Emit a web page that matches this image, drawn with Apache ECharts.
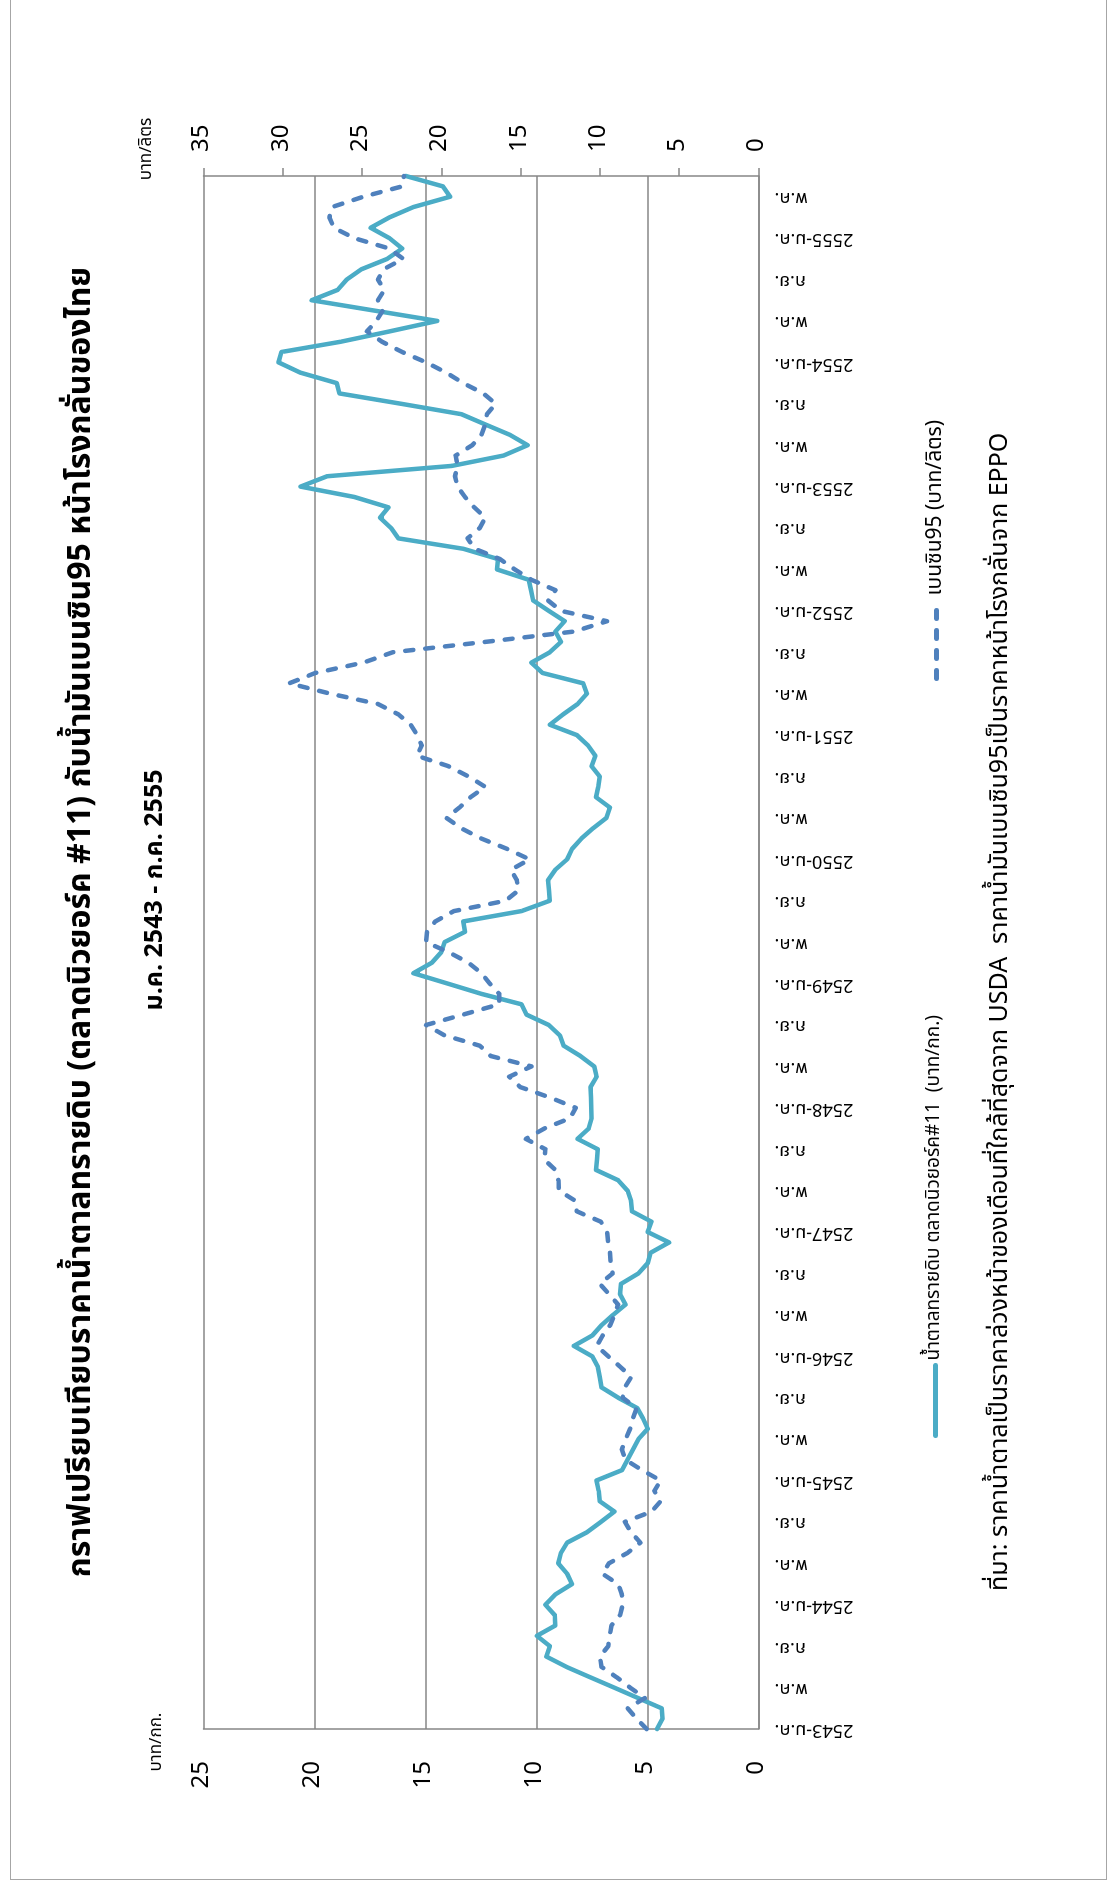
<!DOCTYPE html>
<html>
<head>
<meta charset="utf-8">
<title>ราคาน้ำตาลทรายดิบ กับ น้ำมันเบนซิน95</title>
<script src="https://cdn.jsdelivr.net/npm/echarts@6/dist/echarts.min.js"></script>
<style>
  html, body { margin: 0; padding: 0; width: 1114px; height: 1892px; overflow: hidden; background: #fff; }
  /* the chart is laid out landscape and turned a quarter turn so the time axis runs up the page */
  #frame { position: absolute; left: 0; top: 1892px; width: 1892px; height: 1114px;
           transform-origin: 0 0; transform: rotate(-90deg); background: #fff; }
  #chart { position: absolute; left: 0; top: 0; width: 1892px; height: 1114px; }
  #border { position: absolute; left: 12px; top: 10px; width: 1900px; height: 1097px;
            border: 1px solid #a6a6a6; box-sizing: border-box; pointer-events: none; }
</style>
</head>
<body>
<div id="frame">
  <div id="chart"></div>
  <div id="border"></div>
</div>
<script>
// ---- data -------------------------------------------------------------
const firstYear = 2543;           // พ.ศ.
const monthCount = 151;           // ม.ค. 2543 .. ก.ค. 2555
const monthNames = ['ม.ค.', 'ก.พ.', 'มี.ค.', 'เม.ย.', 'พ.ค.', 'มิ.ย.',
                    'ก.ค.', 'ส.ค.', 'ก.ย.', 'ต.ค.', 'พ.ย.', 'ธ.ค.'];

// raw sugar, New York #11, nearest-month futures (บาท/กก.)
const sugar = [
  4.57, 4.32, 4.36, 5.43, 6.50, 7.58, 8.65, 9.56, 9.40, 9.98,
  9.15, 9.18, 9.60, 9.15, 8.40, 8.62, 9.02, 8.90, 8.62, 7.73,
  7.10, 6.49, 7.15, 7.20, 7.30, 6.15, 5.90, 5.65, 5.41, 4.99,
  5.20, 5.46, 6.32, 7.07, 7.15, 7.24, 7.49, 8.32, 7.49, 7.07,
  6.55, 5.99, 6.24, 6.19, 5.41, 4.99, 4.86, 4.03, 4.99, 4.82,
  5.70, 5.74, 5.90, 6.32, 7.32, 7.28, 7.24, 8.15, 7.65, 7.52,
  7.53, 7.55, 7.57, 7.29, 7.40, 8.02, 8.78, 8.95, 9.45, 10.45,
  10.68, 12.47, 14.00, 15.55, 14.72, 14.30, 14.14, 13.22, 13.30, 10.68,
  9.40, 9.44, 9.48, 9.15, 8.62, 8.40, 7.98, 7.45, 6.85, 6.69,
  7.32, 7.22, 7.15, 7.52, 7.35, 7.68, 8.18, 9.40, 8.80, 8.15,
  7.73, 7.90, 9.73, 10.23, 9.40, 8.90, 9.15, 8.73, 9.45, 10.15,
  10.25, 10.35, 11.78, 11.73, 13.31, 16.22, 16.55, 17.05, 16.67, 18.21,
  20.63, 19.43, 13.81, 11.48, 10.40, 11.20, 12.30, 13.39, 16.10, 18.88,
  19.00, 20.63, 21.62, 21.49, 18.80, 16.60, 14.47, 17.30, 20.13, 18.96,
  18.55, 17.88, 16.72, 16.05, 16.63, 17.47, 16.63, 15.55, 13.89, 14.22,
  15.88
];

// gasoline 95, ex-refinery price (บาท/ลิตร)
const benzine95 = [
  7.05, 7.70, 8.25, 7.15, 8.10, 8.95, 9.90, 10.00, 9.48, 9.38,
  9.27, 8.73, 8.57, 8.62, 8.85, 9.85, 9.43, 8.27, 7.45, 8.03,
  8.43, 6.75, 6.17, 6.57, 6.17, 7.34, 8.38, 8.62, 8.38, 8.10,
  7.92, 7.69, 8.57, 8.43, 8.03, 8.73, 9.48, 10.20, 9.83, 9.36,
  9.08, 8.85, 9.43, 10.01, 9.20, 9.32, 9.36, 9.48, 9.55, 9.94,
  11.46, 11.53, 12.58, 12.62, 12.81, 13.51, 13.44, 14.67, 13.50, 11.88,
  11.53, 13.16, 15.02, 15.72, 14.32, 16.88, 17.58, 19.80, 20.96, 18.63,
  16.35, 16.35, 16.95, 17.47, 18.28, 19.50, 20.96, 20.91, 20.38, 19.21,
  15.95, 15.14, 15.25, 15.60, 14.44, 15.84, 17.47, 18.75, 19.68, 18.86,
  18.16, 17.23, 18.28, 19.56, 21.54, 21.24, 21.52, 21.94, 22.71, 23.99,
  27.00, 29.60, 27.95, 24.92, 23.06, 17.23, 11.64, 9.55, 12.46, 13.27,
  12.81, 14.32, 15.37, 16.30, 17.90, 18.35, 17.58, 17.23, 17.93, 18.51,
  18.98, 19.14, 18.98, 19.10, 18.05, 17.47, 17.23, 17.12, 16.58, 17.35,
  18.63, 19.68, 20.96, 22.47, 23.75, 24.69, 24.10, 23.70, 24.00, 23.60,
  24.00, 23.64, 22.40, 23.30, 25.50, 26.78, 27.06, 26.90, 24.92, 22.47,
  22.36
];

const sugarTicks = { min: 0, max: 25, step: 5 };
const benzineTicks = { min: 0, max: 35, step: 5 };

const titleText = 'กราฟเปรียบเทียบราคาน้ำตาลทรายดิบ (ตลาดนิวยอร์ค #11) กับน้ำมันเบนซิน95 หน้าโรงกลั่นของไทย';
const subtitleText = 'ม.ค. 2543 - ก.ค. 2555';
const sugarName = 'น้ำตาลทรายดิบ ตลาดนิวยอร์ค#11  (บาท/กก.)';
const benzineName = 'เบนซิน95 (บาท/ลิตร)';
const sugarUnit = 'บาท/กก.';
const benzineUnit = 'บาท/ลิตร';
const sourceText = 'ที่มา: ราคาน้ำตาลเป็นราคาล่วงหน้าของเดือนที่ใกล้ที่สุดจาก USDA  ราคาน้ำมันเบนซิน95เป็นราคาหน้าโรงกลั่นจาก EPPO';

// month labels: January carries the year, other months only the abbreviation
const categories = [];
for (let i = 0; i < monthCount; i++) {
  const m = i % 12;
  const y = firstYear + Math.floor(i / 12);
  categories.push(m === 0 ? y + '-' + monthNames[m] : monthNames[m]);
}

// ---- chart ------------------------------------------------------------
const FONT = "'Noto Sans Thai', 'Noto Sans Thai UI', 'Noto Sans', 'DejaVu Sans', sans-serif";
const GRID = '#868686';
const SUGAR_COLOR = '#4BACC6';
const BENZINE_COLOR = '#4F81BD';

const legendBase = {
  orient: 'horizontal', itemWidth: 70, itemHeight: 14, itemGap: 10,
  itemStyle: { opacity: 0 },                       // line only, no marker
  lineStyle: { width: 5, cap: 'round' }
};

const chart = echarts.init(document.getElementById('chart'), null, { renderer: 'canvas' });

chart.setOption({
  animation: false,
  backgroundColor: '#fff',
  textStyle: { fontFamily: FONT, color: '#000' },
  grid: { left: 163, right: 176, top: 203.5, bottom: 355.5, containLabel: false },
  xAxis: {
    type: 'category',
    data: categories,
    boundaryGap: false,
    axisLine: { show: true, lineStyle: { color: GRID, width: 1.5 } },
    axisTick: { show: false },
    splitLine: { show: false },
    axisLabel: {
      interval: 3, rotate: 90, margin: 16,
      fontSize: 18, fontFamily: FONT, color: '#000'
    }
  },
  yAxis: [
    {
      type: 'value', position: 'left',
      min: sugarTicks.min, max: sugarTicks.max, interval: sugarTicks.step,
      axisLine: { show: true, lineStyle: { color: GRID, width: 1.5 } },
      axisTick: { show: false },
      splitLine: { show: true, lineStyle: { color: GRID, width: 1.5 } },
      axisLabel: { margin: 32, fontSize: 24, fontFamily: FONT, color: '#000' }
    },
    {
      type: 'value', position: 'right',
      min: benzineTicks.min, max: benzineTicks.max, interval: benzineTicks.step,
      axisLine: { show: true, lineStyle: { color: GRID, width: 1.5 } },
      axisTick: { show: true, length: 8, inside: false, lineStyle: { color: GRID, width: 1.5 } },
      splitLine: { show: false },
      axisLabel: { margin: 24, fontSize: 24, fontFamily: FONT, color: '#000' }
    }
  ],
  legend: [
    Object.assign({}, legendBase, {
      data: [sugarName], left: 449, top: 921,
      textStyle: { fontSize: 19, fontFamily: FONT, color: '#000' }
    }),
    Object.assign({}, legendBase, {
      data: [benzineName], left: 1206, top: 921,
      textStyle: { fontSize: 21, fontFamily: FONT, color: '#000', padding: [0, 0, 0, 8] }
    })
  ],
  graphic: [
    { type: 'text', x: 970, y: 84,
      style: { text: titleText, fontSize: 32, fontWeight: 'bold', fontFamily: FONT,
               fill: '#000', align: 'center', verticalAlign: 'middle' } },
    { type: 'text', x: 1002, y: 157,
      style: { text: subtitleText, fontSize: 25, fontWeight: 'bold', fontFamily: FONT,
               fill: '#000', align: 'center', verticalAlign: 'middle' } },
    { type: 'text', x: 150, y: 158,
      style: { text: sugarUnit, fontSize: 17, fontFamily: FONT,
               fill: '#000', align: 'center', verticalAlign: 'middle' } },
    { type: 'text', x: 1743, y: 148,
      style: { text: benzineUnit, fontSize: 17, fontFamily: FONT,
               fill: '#000', align: 'center', verticalAlign: 'middle' } },
    { type: 'text', x: 301, y: 1002,
      style: { text: sourceText, fontSize: 25, fontFamily: FONT,
               fill: '#000', align: 'left', verticalAlign: 'middle' } }
  ],
  series: [
    {
      name: sugarName, type: 'line', yAxisIndex: 0,
      data: sugar, symbol: 'none', smooth: false,
      lineStyle: { color: SUGAR_COLOR, width: 4.5, cap: 'round', join: 'round' },
      itemStyle: { color: SUGAR_COLOR }
    },
    {
      name: benzineName, type: 'line', yAxisIndex: 1,
      data: benzine95, symbol: 'none', smooth: false,
      lineStyle: { color: BENZINE_COLOR, width: 4.5, type: [8, 12], cap: 'round', join: 'round' },
      itemStyle: { color: BENZINE_COLOR }
    }
  ]
});
</script>
</body>
</html>
